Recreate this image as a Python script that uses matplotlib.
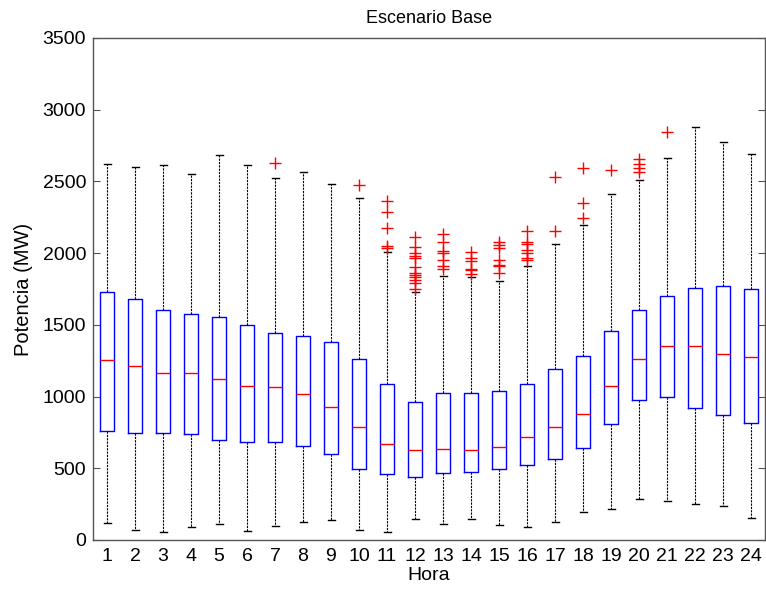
import matplotlib
matplotlib.use("Agg")
import matplotlib.pyplot as plt

plt.rcParams['font.family'] = ['Liberation Sans', 'DejaVu Sans']

# Hourly power distribution statistics (MW)
hours = list(range(1, 25))
q1 = [762, 746, 746, 737, 700, 686, 686, 653, 597, 495, 458, 442,
      470, 474, 493, 521, 565, 644, 809, 974, 997, 920, 869, 814]
medians = [1257, 1213, 1162, 1167, 1123, 1074, 1069, 1020, 925, 790, 669, 630,
           635, 628, 651, 720, 790, 876, 1074, 1260, 1353, 1355, 1297, 1274]
q3 = [1727, 1683, 1602, 1578, 1555, 1497, 1441, 1425, 1381, 1265, 1086, 960,
      1027, 1023, 1039, 1090, 1195, 1283, 1455, 1602, 1704, 1757, 1773, 1753]
whisker_low = [118, 72, 53, 93, 114, 65, 100, 128, 142, 67, 53, 146,
               109, 144, 107, 93, 123, 195, 216, 288, 274, 249, 235, 156]
whisker_high = [2624, 2601, 2617, 2554, 2683, 2615, 2522, 2569, 2480, 2387, 2008, 1732,
                1841, 1832, 1808, 1911, 2062, 2194, 2410, 2513, 2666, 2878, 2778, 2690]
outliers = [
    [], [], [], [], [], [], [2631], [], [], [2476],
    [2366, 2287, 2178, 2050, 2034],
    [2115, 2045, 1999, 1983, 1969, 1902, 1860, 1848, 1832, 1813, 1790, 1750],
    [2132, 2076, 2015, 1999, 1951, 1911, 1888],
    [2006, 1969, 1948, 1890, 1881, 1853],
    [2076, 2059, 2034, 1953, 1918, 1911, 1864],
    [2155, 2080, 2064, 2022, 1999, 1969, 1953],
    [2529, 2157],
    [2592, 2352, 2248],
    [2578],
    [2654, 2624, 2596, 2566],
    [2845],
    [], [], [],
]
y_ticks = [0, 500, 1000, 1500, 2000, 2500, 3000, 3500]

stats = []
for h, lo, a, m, b, hi, fl in zip(hours, whisker_low, q1, medians, q3,
                                   whisker_high, outliers):
    stats.append(dict(label=str(h), whislo=lo, q1=a, med=m, q3=b,
                      whishi=hi, fliers=fl))

fig = plt.figure(figsize=(7.66, 5.90), dpi=100)
ax = fig.add_axes([93 / 766, 50 / 590, 672 / 766, 502 / 590])

ax.bxp(stats, positions=hours, widths=0.5, capwidths=0.25,
       showfliers=True,
       boxprops=dict(color='#0000ff', linewidth=1.0),
       medianprops=dict(color='#ff0000', linewidth=1.0),
       whiskerprops=dict(color='black', linewidth=0.8, linestyle=(0, (2, 1))),
       capprops=dict(color='black', linewidth=1.0),
       flierprops=dict(marker='+', markeredgecolor='#ff0000',
                       markersize=9, markeredgewidth=1.0, linestyle='none'))

ax.set_xlim(0.5, 24.5)
ax.set_ylim(0, 3500)
ax.set_yticks(y_ticks)
ax.set_xticks(hours)
ax.set_xticklabels([str(h) for h in hours])
ax.tick_params(axis='y', direction='in', length=5, color='#555555',
               right=True, labelsize=14, pad=5)
ax.tick_params(axis='x', length=0, labelsize=14, pad=6)
for sp in ax.spines.values():
    sp.set_color('#555555')
    sp.set_linewidth(1.0)

ax.set_title('Escenario Base', fontsize=13, pad=11)
ax.set_xlabel('Hora', fontsize=14, labelpad=1)
ax.set_ylabel('Potencia (MW)', fontsize=14.5, labelpad=7)

fig.savefig('out.png', dpi=100)
